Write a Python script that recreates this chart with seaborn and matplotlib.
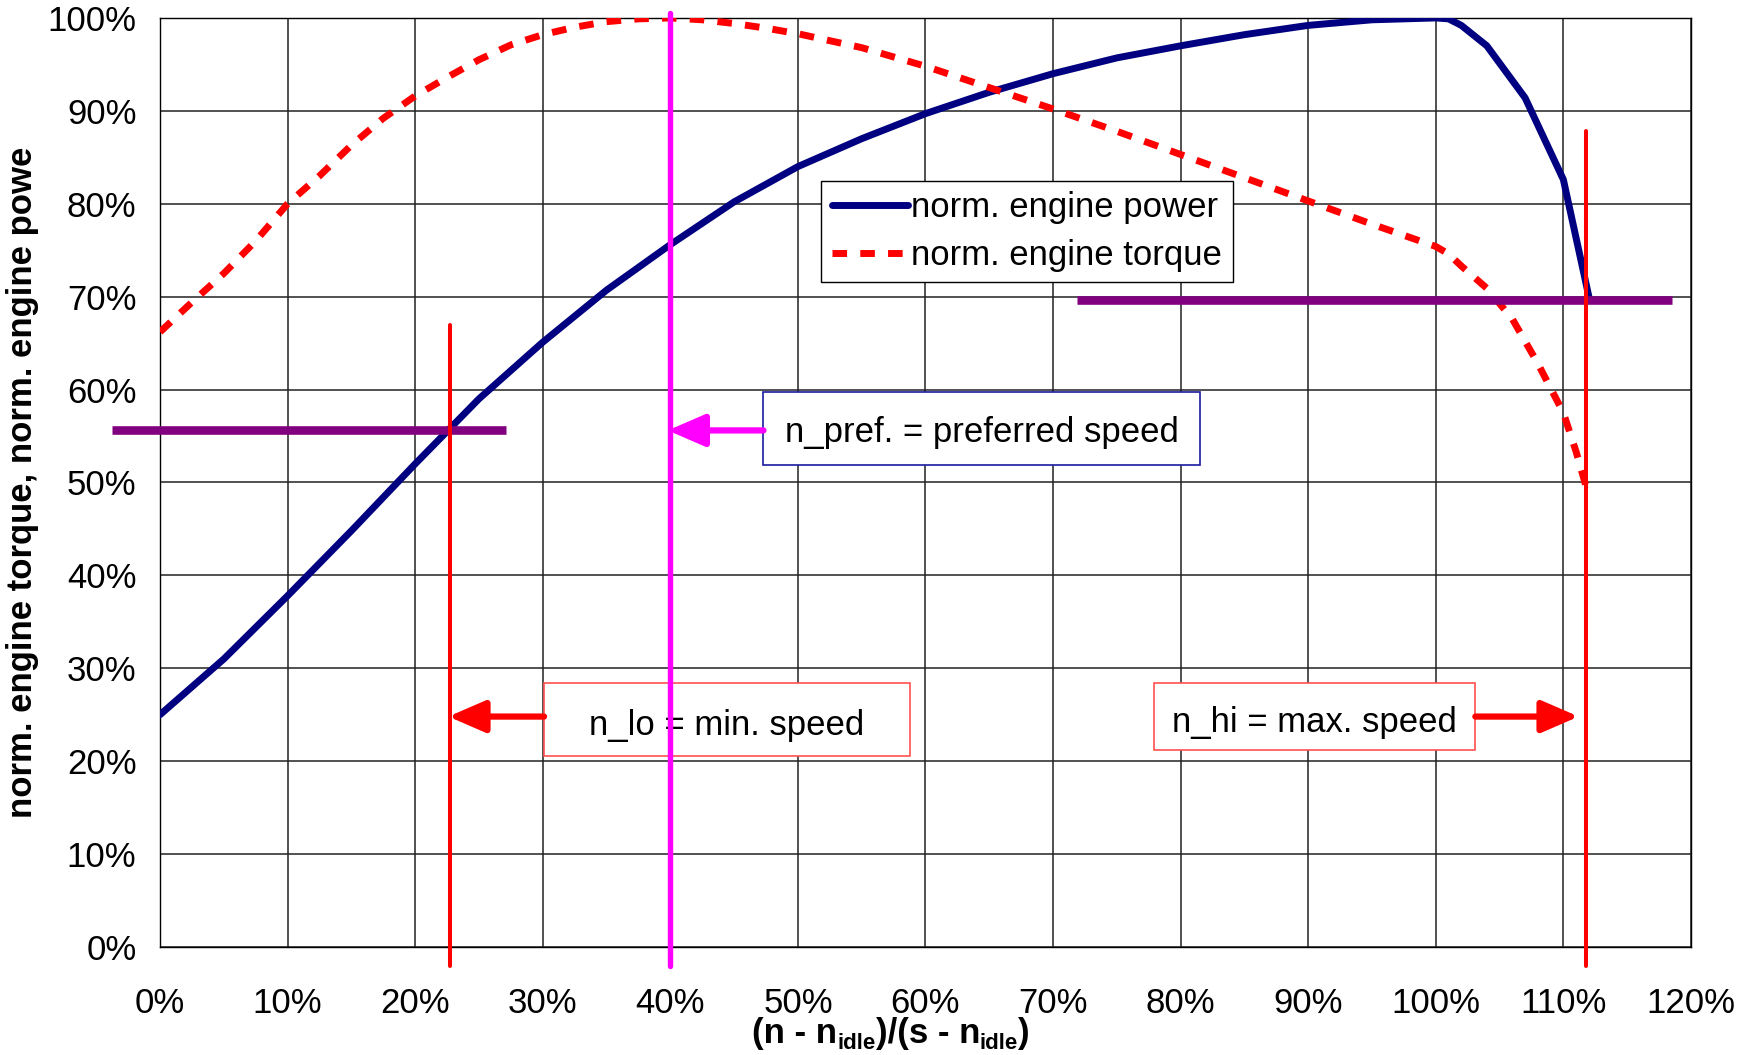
import matplotlib
matplotlib.use("Agg")
import matplotlib.pyplot as plt
import seaborn as sns
import numpy as np
from matplotlib.patches import Rectangle
from matplotlib.lines import Line2D
from matplotlib.ticker import MultipleLocator, FuncFormatter

# ---------------- data ----------------
power_x = [0, 5, 10, 15, 20, 25, 30, 35, 40, 45, 50, 55, 60, 65, 70, 75, 80, 85,
           90, 95, 100, 101, 102, 104, 107, 110, 112]
power_y = [25, 31, 37.8, 44.8, 52, 59, 65.1, 70.7, 75.6, 80.2, 84, 87, 89.7, 92,
           94, 95.7, 97, 98.2, 99.2, 99.8, 100, 99.9, 99.2, 97, 91.4, 82.6, 70]

torque_x = [0, 2.5, 5, 7.5, 10, 12.5, 15, 17.5, 20, 22.5, 25, 27.5, 30, 32.5, 35,
            37.5, 40, 42.5, 45, 47.5, 50, 55, 60, 65, 70, 75, 80, 85, 90, 95, 100,
            101, 102, 104, 106, 108, 110, 111, 112]
torque_y = [66.2, 69.4, 72.5, 76, 80, 83, 86.3, 89.2, 91.6, 93.6, 95.5, 97.1, 98.2,
            99, 99.6, 99.9, 100, 99.8, 99.4, 98.9, 98.3, 96.8, 94.8, 92.5, 90.2, 87.8,
            85.3, 82.8, 80.3, 77.8, 75.4, 74.6, 73.3, 70.9, 67.6, 62.8, 57.5, 53.3, 48.5]

series_labels = ["norm. engine power", "norm. engine torque"]

n_lo = 22.75
n_pref = 40.0
n_hi = 111.8
level_lo = 55.6
level_hi = 69.6

x_ticks = list(range(0, 121, 10))
y_ticks = list(range(0, 101, 10))

# x-axis label pieces: (text, is_subscript)
xlabel_pieces = [("(n - n", False), ("idle", True), (")/(s - n", False),
                 ("idle", True), (")", False)]

# ---------------- style ----------------
sns.set_theme(style="white")
plt.rcParams["font.family"] = ["Liberation Sans", "DejaVu Sans"]
plt.rcParams["text.color"] = "black"

FS = 25
FS_SUB = 16
W_PX, H_PX = 1751, 1055
LW_CURVE = 5.0
fig = plt.figure(figsize=(17.51, 10.55), dpi=100)
ax = fig.add_axes([0.0914, 0.1024, 0.8743, 0.8806])

# curves
sns.lineplot(x=power_x, y=power_y, ax=ax, color="#000080", lw=LW_CURVE, zorder=3,
             sort=False, estimator=None)
sns.lineplot(x=torque_x, y=torque_y, ax=ax, color="#ff0000", lw=LW_CURVE, zorder=3,
             sort=False, estimator=None)
ax.lines[-1].set_dashes((2.1, 1.9))
ax.lines[-1].set_dash_capstyle("butt")

# horizontal purple levels
ax.plot([-3.8, 27.1], [level_lo, level_lo], color="#800080", lw=6.2, zorder=4,
        clip_on=False, solid_capstyle="butt")
ax.plot([71.9, 118.5], [level_hi, level_hi], color="#800080", lw=6.2, zorder=4,
        clip_on=False, solid_capstyle="butt")

# vertical lines
ax.plot([n_lo, n_lo], [-2, 67], color="#ff0000", lw=2.9, zorder=5, clip_on=False)
ax.plot([n_hi, n_hi], [-2, 87.8], color="#ff0000", lw=2.9, zorder=5, clip_on=False)

# boxes and texts
def box(x0, x1, y0, y1, ec, txt, tx, ty):
    ax.add_patch(Rectangle((x0, y0), x1 - x0, y1 - y0, facecolor="white",
                           edgecolor=ec, lw=1.2, zorder=6))
    ax.text(tx, ty, txt, fontsize=FS, ha="center", va="center", zorder=7,
            color="black")

box(47.3, 81.5, 51.9, 59.7, "#1a1aa0", "n_pref. = preferred speed", 64.4, 55.4)
box(30.1, 58.8, 20.6, 28.4, "#ff5050", "n_lo = min. speed", 44.4, 23.8)
box(77.9, 103.1, 21.2, 28.4, "#ff5050", "n_hi = max. speed", 90.5, 24.2)

ax.plot([n_pref, n_pref], [-2, 100.5], color="#ff00ff", lw=3.9, zorder=8, clip_on=False)

def arrow(x_from, x_to, y, color):
    ax.annotate("", xy=(x_to, y), xytext=(x_from, y),
                arrowprops=dict(arrowstyle="-|>,head_length=1.5,head_width=0.65",
                                color=color, lw=4.5, shrinkA=0, shrinkB=0,
                                mutation_scale=15), zorder=9)

arrow(30.1, 22.6, 24.8, "#ff0000")
arrow(47.3, 39.8, 55.6, "#ff00ff")
arrow(103.1, 111.2, 24.8, "#ff0000")

# axes formatting
ax.set_xlim(0, 120)
ax.set_ylim(0, 100)
ax.set_xticks(x_ticks)
ax.set_yticks(y_ticks)
ax.xaxis.set_minor_locator(MultipleLocator(2))
ax.yaxis.set_minor_locator(MultipleLocator(2))
pct = FuncFormatter(lambda v, p: f"{v:.0f}%")
ax.xaxis.set_major_formatter(pct)
ax.yaxis.set_major_formatter(pct)
ax.tick_params(axis="both", which="both", direction="inout", color="black",
               width=1, labelsize=FS, labelcolor="black")
ax.tick_params(axis="both", which="major", length=12)
ax.tick_params(axis="both", which="minor", length=11)
ax.tick_params(axis="x", which="major", pad=23)
ax.tick_params(axis="y", which="major", pad=11)
ax.grid(True, which="major", color="#222222", lw=1.1, zorder=0)
ax.set_axisbelow(True)
for s in ax.spines.values():
    s.set_color("black")
    s.set_linewidth(1)
    s.set_visible(True)

ax.set_ylabel("norm. engine torque, norm. engine powe", fontsize=FS,
              fontweight="bold", labelpad=6, color="black")

# x label built from pieces (hyphens and subscripts as in the reference)
renderer = fig.canvas.get_renderer()
texts = []
for txt, sub in xlabel_pieces:
    t = fig.text(0, 0, txt, fontsize=FS_SUB if sub else FS, fontweight="bold",
                 ha="left", va="baseline", color="black")
    texts.append((t, sub))
widths = [t.get_window_extent(renderer).width for t, _ in texts]
total = sum(widths)
x_px = 891 - total / 2.0
base_px = H_PX - 1043
for (t, sub), w in zip(texts, widths):
    y_px = base_px - (6 if sub else 0)
    t.set_position((x_px / W_PX, y_px / H_PX))
    x_px += w

handles = [Line2D([], [], color="#000080", lw=LW_CURVE),
           Line2D([], [], color="#ff0000", lw=LW_CURVE, dashes=(2.1, 1.9))]
leg = ax.legend(handles, series_labels, loc="upper left",
                bbox_to_anchor=(0.4318, 0.8245), fontsize=FS, frameon=True,
                fancybox=False, framealpha=1, edgecolor="black",
                handlelength=2.2, handletextpad=0.1, borderpad=0.3,
                labelspacing=0.42, borderaxespad=0)
leg.get_frame().set_linewidth(1)
leg.set_zorder(6)
for t in leg.get_texts():
    t.set_color("black")

fig.savefig("out.png", dpi=100, facecolor="white")
